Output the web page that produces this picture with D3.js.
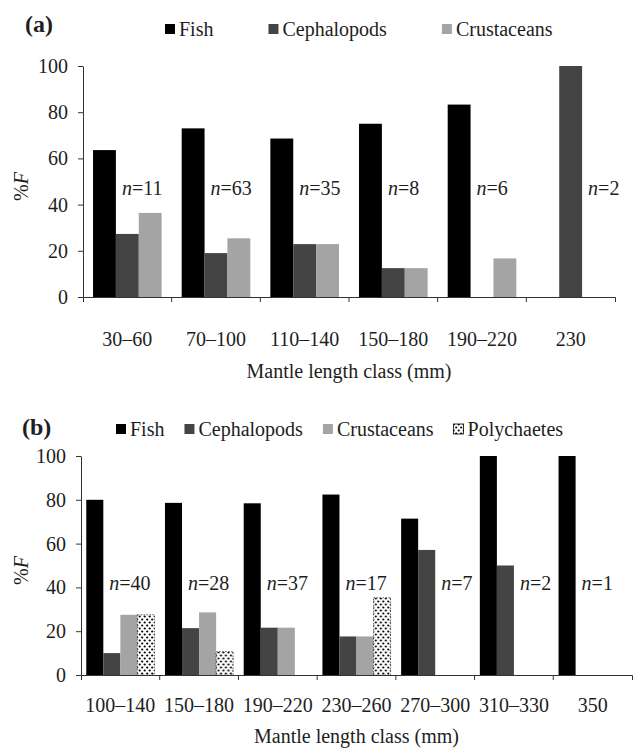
<!DOCTYPE html>
<html>
<head>
<meta charset="utf-8">
<script src="https://cdn.jsdelivr.net/npm/d3@7"></script>
<style>
    html, body { margin: 0; padding: 0; background: #fff; }
    svg { display: block; font-family: "Liberation Serif", "Times New Roman", serif; }
</style>
</head>
<body>
<div id="chart"></div>
<script>
'use strict';

// ---- data ----
const yTicks = [0, 20, 40, 60, 80, 100];

// (a)
const seriesA = ["Fish", "Cephalopods", "Crustaceans"];
const classesA = ["30–60", "70–100", "110–140", "150–180", "190–220", "230"];
const fishA = [63.6, 73.0, 68.6, 75.0, 83.3, 0];
const cephA = [27.3, 19.0, 22.9, 12.5, 0, 100];
const crustA = [36.4, 25.4, 22.9, 12.5, 16.7, 0];
const nA = [11, 63, 35, 8, 6, 2];

// (b)
const seriesB = ["Fish", "Cephalopods", "Crustaceans", "Polychaetes"];
const classesB = ["100–140", "150–180", "190–220", "230–260", "270–300", "310–330", "350"];
const fishB = [80.0, 78.6, 78.4, 82.4, 71.4, 100, 100];
const cephB = [10.0, 21.4, 21.6, 17.6, 57.1, 50.0, 0];
const crustB = [27.5, 28.6, 21.6, 17.6, 0, 0, 0];
const polyB = [27.5, 10.7, 0, 35.3, 0, 0, 0];
const nB = [40, 28, 37, 17, 7, 2, 1];

// ---- styles ----
const fills = {
    Fish: "#000",
    Cephalopods: "#444",
    Crustaceans: "#a4a4a4",
    Polychaetes: "url(#dots)"
};
const textColor = "#1e1e1e";
const axisColor = "#333";

const W = 635, H = 752;

const svg = d3.select("#chart").append("svg")
    .attr("width", W)
    .attr("height", H);

svg.append("rect").attr("width", W).attr("height", H).attr("fill", "#fff");

// dotted pattern for polychaetes
const pat = svg.append("defs").append("pattern")
    .attr("id", "dots")
    .attr("patternUnits", "userSpaceOnUse")
    .attr("width", 5)
    .attr("height", 6);
pat.append("rect").attr("width", 5).attr("height", 6).attr("fill", "#fff");
pat.append("circle").attr("cx", 1.2).attr("cy", 1.5).attr("r", 1.1).attr("fill", "#000");
pat.append("circle").attr("cx", 3.7).attr("cy", 4.5).attr("r", 1.1).attr("fill", "#000");

function drawPanel(cfg) {
    const g = svg.append("g");

    const x0 = d3.scaleBand()
        .domain(cfg.classes)
        .range([cfg.left, cfg.right]);

    const bw = x0.bandwidth();
    const x1 = d3.scaleBand()
        .domain(cfg.series)
        .range([bw * cfg.innerPad, bw * (1 - cfg.innerPad)]);

    const y = d3.scaleLinear()
        .domain([0, 100])
        .range([cfg.bottom, cfg.top]);

    // panel tag
    g.append("text")
        .attr("x", cfg.tagX)
        .attr("y", cfg.tagY)
        .attr("font-size", 24)
        .attr("font-weight", 700)
        .attr("fill", textColor)
        .text(cfg.tag);

    // legend
    let lx = cfg.legendX;
    cfg.series.forEach(s => {
        g.append("rect")
            .attr("x", lx)
            .attr("y", cfg.legendY - 12)
            .attr("width", 10)
            .attr("height", 10)
            .attr("fill", fills[s])
            .attr("stroke", s === "Polychaetes" ? "#000" : "none")
            .attr("stroke-width", 0.8);
        const t = g.append("text")
            .attr("x", lx + 14)
            .attr("y", cfg.legendY)
            .attr("font-size", 20)
            .attr("fill", textColor)
            .text(s);
        lx += 14 + t.node().getComputedTextLength() + cfg.legendGap;
    });

    // bars
    const rows = cfg.classes.map((c, i) => ({
        cls: c,
        n: cfg.ns[i],
        vals: cfg.series.map((s, j) => ({ key: s, value: cfg.values[j][i] }))
    }));

    const groups = g.selectAll(".grp")
        .data(rows)
        .join("g")
        .classed("grp", true)
        .attr("transform", d => `translate(${x0(d.cls)},0)`);

    groups.selectAll("rect")
        .data(d => d.vals.filter(v => v.value > 0))
        .join("rect")
        .attr("x", d => x1(d.key))
        .attr("y", d => y(d.value))
        .attr("width", x1.bandwidth())
        .attr("height", d => y(0) - y(d.value))
        .attr("fill", d => fills[d.key])
        .attr("stroke", d => d.key === "Polychaetes" ? "#000" : "none")
        .attr("stroke-width", 0.6)
        .attr("stroke-dasharray", d => d.key === "Polychaetes" ? "1.5 1.5" : null);

    // n labels: just right of the last bar that reaches the label
    groups.append("text")
        .attr("x", d => {
            const tall = d.vals.filter(v => v.value > cfg.labelLevel - 6);
            const last = tall[tall.length - 1];
            return x1(last.key) + x1.bandwidth() + 6;
        })
        .attr("y", y(cfg.labelLevel))
        .attr("dy", "0.35em")
        .attr("font-size", 20)
        .attr("fill", textColor)
        .call(t => {
            t.append("tspan").attr("font-style", "italic").text("n");
            t.append("tspan").text(d => "=" + d.n);
        });

    // y axis
    const yAxis = g.append("g")
        .attr("transform", `translate(${cfg.left},0)`)
        .call(d3.axisLeft(y).tickValues(yTicks).tickSize(5).tickPadding(10).tickSizeOuter(0));

    // x axis
    const xAxis = g.append("g")
        .attr("transform", `translate(0,${cfg.bottom})`)
        .call(d3.axisBottom(x0).tickSizeInner(0).tickSizeOuter(5).tickPadding(cfg.xPad));

    xAxis.selectAll(".bound")
        .data(cfg.classes.slice(1))
        .join("line")
        .classed("bound", true)
        .attr("x1", d => x0(d))
        .attr("x2", d => x0(d))
        .attr("y1", 0)
        .attr("y2", 5)
        .attr("stroke", axisColor);

    [yAxis, xAxis].forEach(a => {
        a.select(".domain").attr("stroke", axisColor);
        a.selectAll(".tick line").attr("stroke", axisColor);
        a.selectAll("text")
            .attr("font-family", "Liberation Serif, Times New Roman, serif")
            .attr("font-size", 20)
            .attr("fill", textColor);
    });

    // axis titles
    g.append("text")
        .attr("x", (cfg.left + cfg.right) / 2)
        .attr("y", cfg.titleY)
        .attr("text-anchor", "middle")
        .attr("font-size", 20)
        .attr("fill", textColor)
        .text("Mantle length class (mm)");

    g.append("text")
        .attr("transform", `translate(${cfg.yTitleX},${(cfg.top + cfg.bottom) / 2 + 5}) rotate(-90)`)
        .attr("text-anchor", "middle")
        .attr("dy", "0.35em")
        .attr("font-size", 20)
        .attr("fill", textColor)
        .call(t => {
            t.append("tspan").text("%");
            t.append("tspan").attr("font-style", "italic").text("F");
        });
}

drawPanel({
    tag: "(a)", tagX: 25, tagY: 32,
    legendX: 165, legendY: 36, legendGap: 55,
    series: seriesA, classes: classesA,
    values: [fishA, cephA, crustA], ns: nA,
    left: 83, right: 615, top: 66, bottom: 297,
    innerPad: 0.113, labelLevel: 47,
    xPad: 35, titleY: 378, yTitleX: 21
});

drawPanel({
    tag: "(b)", tagX: 22, tagY: 435,
    legendX: 116, legendY: 436, legendGap: 20,
    series: seriesB, classes: classesB,
    values: [fishB, cephB, crustB, polyB], ns: nB,
    left: 81, right: 632, top: 456, bottom: 675,
    innerPad: 0.067, labelLevel: 42,
    xPad: 23, titleY: 743, yTitleX: 21
});
</script>
</body>
</html>
